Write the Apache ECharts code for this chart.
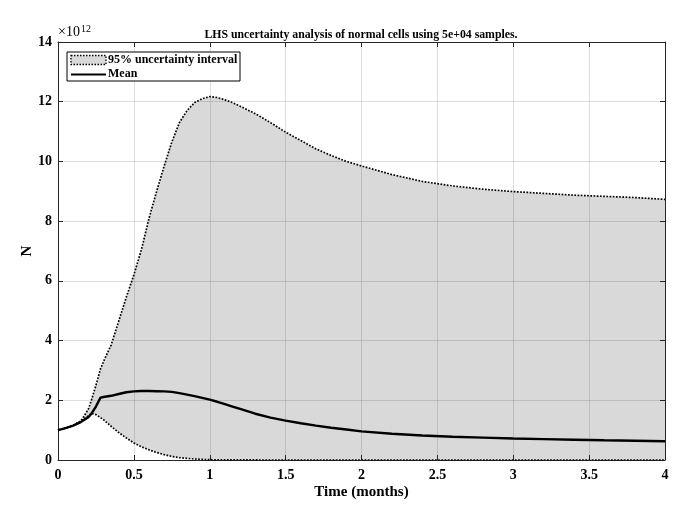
<!DOCTYPE html>
<html>
<head>
<meta charset="utf-8">
<script src="https://cdn.jsdelivr.net/npm/echarts@6/dist/echarts.min.js"></script>
<style>html,body{margin:0;padding:0;background:#fff;}#c{width:694px;height:505px;}</style>
</head>
<body>
<div id="c"></div>
<script>
// Values of N in units of 1e12
var time  = [0, 0.05, 0.1, 0.15, 0.2, 0.22, 0.25, 0.28, 0.3, 0.35, 0.4, 0.45, 0.5, 0.55, 0.6, 0.65, 0.7, 0.75, 0.8, 0.85, 0.9, 0.95, 1.0, 1.05, 1.1, 1.15, 1.2, 1.3, 1.4, 1.5, 1.6, 1.7, 1.8, 1.9, 2.0, 2.2, 2.4, 2.6, 2.8, 3.0, 3.2, 3.4, 3.6, 3.8, 4.0];
var upper = [1.0, 1.07, 1.16, 1.3, 1.7, 2.0, 2.5, 3.05, 3.3, 3.85, 4.65, 5.45, 6.2, 7.05, 8.1, 9.0, 9.85, 10.65, 11.3, 11.7, 11.97, 12.1, 12.17, 12.14, 12.06, 11.97, 11.85, 11.6, 11.3, 10.98, 10.7, 10.42, 10.2, 10.0, 9.85, 9.56, 9.33, 9.18, 9.07, 8.99, 8.93, 8.87, 8.83, 8.79, 8.73];
var lower = [1.0, 1.07, 1.16, 1.3, 1.48, 1.56, 1.52, 1.42, 1.35, 1.13, 0.92, 0.74, 0.57, 0.44, 0.34, 0.25, 0.18, 0.12, 0.08, 0.055, 0.035, 0.02, 0.01, 0.006, 0.004, 0.003, 0.002, 0.001, 0, 0, 0, 0, 0, 0, 0, 0, 0, 0, 0, 0, 0, 0, 0, 0, 0];
var mean  = [1.0, 1.07, 1.15, 1.27, 1.43, 1.55, 1.79, 2.09, 2.11, 2.15, 2.21, 2.27, 2.3, 2.31, 2.31, 2.305, 2.3, 2.28, 2.24, 2.19, 2.14, 2.08, 2.02, 1.95, 1.87, 1.79, 1.71, 1.55, 1.42, 1.32, 1.23, 1.15, 1.08, 1.02, 0.96, 0.88, 0.82, 0.78, 0.75, 0.72, 0.70, 0.68, 0.66, 0.645, 0.63];
var xTicks = [0, 0.5, 1, 1.5, 2, 2.5, 3, 3.5, 4];
var yTicks = [0, 2, 4, 6, 8, 10, 12, 14];

function pairs(v){ return time.map(function(t,i){ return [t, v[i]]; }); }

var FONT = '"Liberation Serif", "DejaVu Serif", serif';
var chart = echarts.init(document.getElementById('c'), null, {renderer:'canvas'});
var gridColor = 'rgba(0,0,0,0.13)';
var axisColor = '#262626';

function renderBand(params, api) {
  var pts = [];
  for (var i = 0; i < time.length; i++) pts.push(api.coord([time[i], upper[i]]));
  for (var j = time.length - 1; j >= 0; j--) pts.push(api.coord([time[j], lower[j]]));
  return {type: 'polygon', shape: {points: pts}, style: {fill: '#d9d9d9', stroke: null}, silent: true};
}

chart.setOption({
  animation: false,
  backgroundColor: '#fff',
  grid: {left: 58, right: 29, top: 42, bottom: 45, containLabel: false},
  xAxis: [{
    type: 'value', min: 0, max: 4, interval: 0.5, z: 5,
    name: 'Time (months)', nameLocation: 'middle', nameGap: 25, nameMoveOverlap: false,
    nameTextStyle: {fontFamily: FONT, fontWeight: 'bold', fontSize: 15, color: '#000'},
    axisLine: {show: true, onZero: false, lineStyle: {color: axisColor, width: 1}},
    axisTick: {show: true, inside: true, length: 5, lineStyle: {color: axisColor}},
    axisLabel: {fontFamily: FONT, fontWeight: 'bold', fontSize: 14, color: '#000', margin: 8,
      formatter: function(v){ return xTicks.indexOf(v) >= 0 ? String(v) : ''; }},
    splitLine: {show: true, lineStyle: {color: gridColor, width: 1}}
  }, {
    type: 'value', position: 'top', min: 0, max: 4, interval: 0.5, z: 5,
    axisLine: {show: true, onZero: false, lineStyle: {color: axisColor, width: 1}},
    axisTick: {show: true, inside: true, length: 5, lineStyle: {color: axisColor}},
    axisLabel: {show: false}, splitLine: {show: false}
  }],
  yAxis: [{
    type: 'value', min: 0, max: 14, interval: 2, z: 5,
    name: 'N', nameLocation: 'middle', nameGap: 23, nameRotate: 90, nameMoveOverlap: false,
    nameTextStyle: {fontFamily: FONT, fontWeight: 'bold', fontSize: 15, color: '#000'},
    axisLine: {show: true, onZero: false, lineStyle: {color: axisColor, width: 1}},
    axisTick: {show: true, inside: true, length: 5, lineStyle: {color: axisColor}},
    axisLabel: {fontFamily: FONT, fontWeight: 'bold', fontSize: 14, color: '#000', margin: 6,
      formatter: function(v){ return yTicks.indexOf(v) >= 0 ? String(v) : ''; }},
    splitLine: {show: true, lineStyle: {color: gridColor, width: 1}}
  }, {
    type: 'value', position: 'right', min: 0, max: 14, interval: 2, z: 5,
    axisLine: {show: true, onZero: false, lineStyle: {color: axisColor, width: 1}},
    axisTick: {show: true, inside: true, length: 5, lineStyle: {color: axisColor}},
    axisLabel: {show: false}, splitLine: {show: false}
  }],
  series: [
    {name: '95% uncertainty interval', type: 'custom', renderItem: renderBand, data: [[0, 0]],
     clip: true, silent: true, z: 1},
    {name: 'upperLine', type: 'line', data: pairs(upper), symbol: 'none', smooth: false,
     lineStyle: {color: '#000', width: 1.7, type: [1.7, 1.5]}, z: 6},
    {name: 'lowerLine', type: 'line', data: pairs(lower), symbol: 'none',
     lineStyle: {color: '#000', width: 1.7, type: [1.7, 1.5]}, z: 6},
    {name: 'Mean', type: 'line', data: pairs(mean), symbol: 'none',
     lineStyle: {color: '#000', width: 2.4}, z: 7}
  ],
  graphic: [
    {type: 'text', x: 361, y: 35, z: 20,
     style: {text: 'LHS uncertainty analysis of normal cells using 5e+04 samples.', fontFamily: FONT,
       fontWeight: 'bold', fontSize: 11.8, fill: '#000', align: 'center', verticalAlign: 'middle'}},
    {type: 'text', left: 58, top: 25, z: 20,
     style: {text: '×10', fontFamily: FONT, fontSize: 14, fill: '#000'}},
    {type: 'text', left: 81, top: 24, z: 20,
     style: {text: '12', fontFamily: FONT, fontSize: 10, fill: '#000'}},
    {type: 'rect', shape: {x: 67, y: 52, width: 173, height: 29}, z: 20,
     style: {fill: '#fff', stroke: '#000', lineWidth: 1}},
    {type: 'rect', shape: {x: 71, y: 55.5, width: 35, height: 9}, z: 21,
     style: {fill: '#d9d9d9', stroke: '#000', lineWidth: 1.3, lineDash: [1.5, 1.5]}},
    {type: 'line', shape: {x1: 71, y1: 74.5, x2: 106, y2: 74.5}, z: 21,
     style: {stroke: '#000', lineWidth: 2}},
    {type: 'text', left: 108, top: 54, z: 21,
     style: {text: '95% uncertainty interval', fontFamily: FONT, fontWeight: 'bold', fontSize: 12, fill: '#000'}},
    {type: 'text', left: 108, top: 68, z: 21,
     style: {text: 'Mean', fontFamily: FONT, fontWeight: 'bold', fontSize: 12, fill: '#000'}}
  ]
});
</script>
</body>
</html>
